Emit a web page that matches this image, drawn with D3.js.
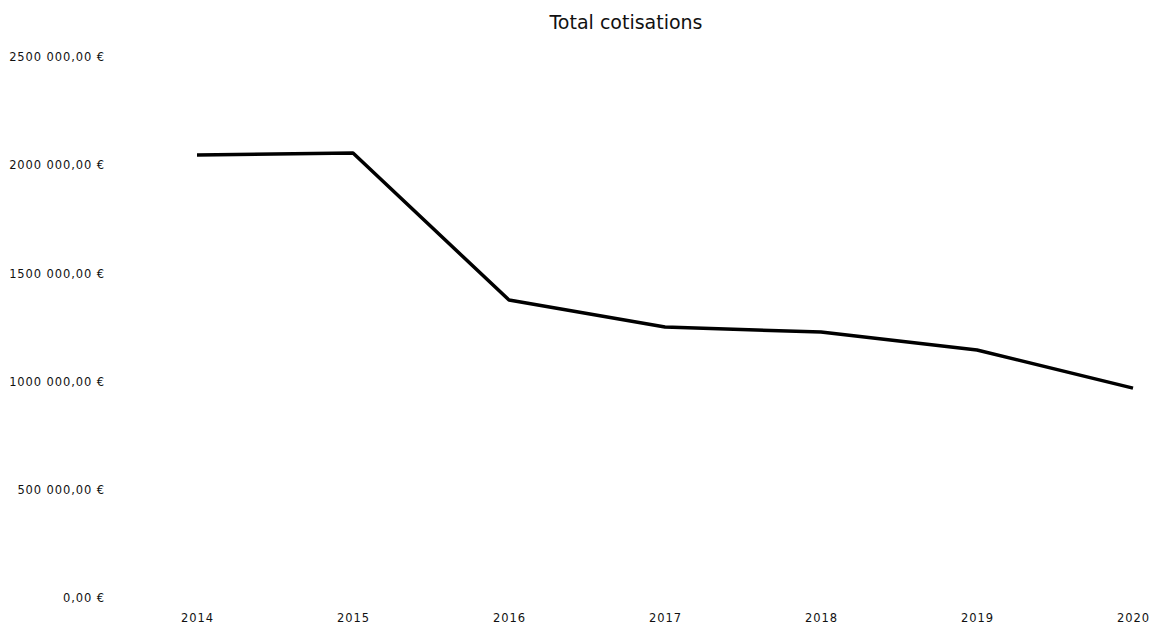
<!DOCTYPE html>
<html>
<head>
<meta charset="utf-8">
<script src="https://cdn.jsdelivr.net/npm/d3@7"></script>
<style>
  body { margin: 0; background: #fff; }
  .axis text { font-family: "DejaVu Sans", sans-serif; font-size: 11.5px; fill: #111; letter-spacing: 0.9px; }
  .axis path, .axis line { display: none; }
  .line { fill: none; stroke: #000; stroke-width: 3.5px; stroke-linejoin: round; }
</style>
</head>
<body>
<div id="chart"></div>
<script>
// data
var years = ["2014", "2015", "2016", "2017", "2018", "2019", "2020"];
var totals = [2047000, 2056000, 1377000, 1252000, 1229000, 1146000, 970000];
var yTicks = [0, 500000, 1000000, 1500000, 2000000, 2500000];

function init() {

    var w = 1156;
    var h = 628;

    var dataset = years.map(function (y, i) { return { year: y, total: totals[i] }; });

    // x positions of each year
    var xScale = d3.scalePoint()
        .domain(years)
        .range([197, 1133]);

    var yScale = d3.scaleLinear()
        .domain([0, 2500000])
        .range([598, 57]);

    // money format as in the chart: "2000 000,00 €" (only the thousands are split)
    function euro(v) {
        if (v === 0) return "0,00 €";
        var s = String(Math.round(v));
        return s.slice(0, s.length - 3) + " " + s.slice(s.length - 3) + ",00 €";
    }

    var svg = d3.select("#chart")
        .append("svg")
        .attr("width", w)
        .attr("height", h);

    // title
    svg.append("text")
        .attr("x", 626)
        .attr("y", 29)
        .attr("text-anchor", "middle")
        .style("font-family", "'DejaVu Sans', sans-serif")
        .style("font-size", "19px")
        .style("fill", "#111")
        .text("Total cotisations");

    var yAxis = d3.axisLeft(yScale)
        .tickValues(yTicks)
        .tickSize(0)
        .tickPadding(0)
        .tickFormat(euro);

    svg.append("g")
        .attr("class", "axis")
        .attr("transform", "translate(105,0)")
        .call(yAxis);

    var xAxis = d3.axisBottom(xScale)
        .tickSize(0)
        .tickPadding(0);

    svg.append("g")
        .attr("class", "axis")
        .attr("transform", "translate(0,614)")
        .call(xAxis);

    var line = d3.line()
        .x(function (d) { return xScale(d.year); })
        .y(function (d) { return yScale(d.total); });

    svg.append("path")
        .datum(dataset)
        .attr("class", "line")
        .attr("d", line);
}

window.onload = init;
</script>
</body>
</html>
